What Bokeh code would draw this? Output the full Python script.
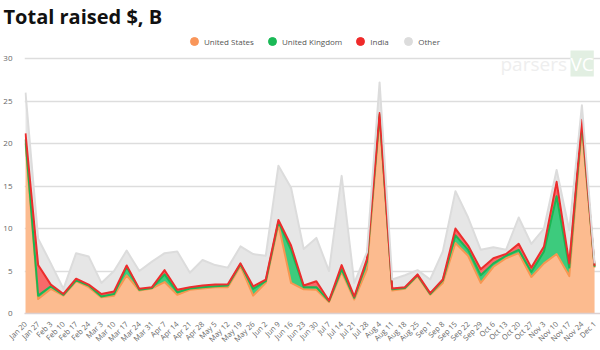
import math
from bokeh.plotting import figure
from bokeh.models import (ColumnDataSource, Range1d, FixedTicker, Legend, LegendItem, Label)
from bokeh.embed import file_html
from bokeh.resources import INLINE

dates = ["Jan 20","Jan 27","Feb 3","Feb 10","Feb 17","Feb 24","Mar 3","Mar 10","Mar 17","Mar 24","Mar 31",
         "Apr 7","Apr 14","Apr 21","Apr 28","May 5","May 12","May 19","May 26","Jun 2","Jun 9","Jun 16",
         "Jun 23","Jun 30","Jul 7","Jul 14","Jul 21","Jul 28","Aug 4","Aug 11","Aug 18","Aug 25","Sep 1",
         "Sep 8","Sep 15","Sep 22","Sep 29","Oct 6","Oct 13","Oct 20","Oct 27","Nov 3","Nov 10","Nov 17",
         "Nov 24","Dec 1"]

united_states = [20.0,1.7,2.9,2.1,3.8,3.1,1.9,2.1,4.5,2.7,2.95,3.7,2.2,2.8,2.95,3.1,3.1,5.6,2.1,3.6,
                 10.5,3.6,2.85,2.8,1.35,4.9,1.65,5.2,23.0,2.7,2.9,4.4,2.2,3.6,8.3,6.8,3.6,5.5,6.5,7.1,
                 4.3,5.9,7.0,4.4,21.8,5.4]
united_kingdom = [0.5,0.4,0.3,0.1,0.1,0.2,0.1,0.2,1.0,0.1,0.05,0.9,0.3,0.15,0.15,0.1,0.2,0.2,0.8,0.2,
                  0.3,3.9,0.25,0.3,0.1,0.3,0.2,0.9,0.4,0.15,0.1,0.1,0.1,0.3,0.9,0.7,0.9,0.4,0.3,0.4,
                  0.6,1.4,6.8,1.0,0.6,0.1]
india = [0.7,3.6,0.2,0.1,0.2,0.1,0.3,0.3,0.15,0.1,0.1,0.5,0.3,0.15,0.2,0.2,0.15,0.1,0.3,0.2,
         0.2,0.5,0.2,0.7,0.05,0.5,0.15,0.3,0.2,0.1,0.1,0.1,0.1,0.1,0.8,0.5,0.7,0.6,0.2,0.7,
         0.5,0.6,1.7,0.5,0.4,0.1]
other = [4.8,3.1,2.5,0.6,3.0,3.3,1.3,2.4,1.75,2.1,3.0,2.0,4.5,1.7,3.0,2.3,1.95,2.0,3.8,2.8,
         6.4,6.8,4.3,5.1,3.5,10.5,1.6,0.8,3.6,1.05,1.4,0.5,1.6,3.3,4.4,3.3,2.3,1.3,0.5,3.1,
         2.8,2.1,1.4,3.9,1.7,0.3]

y_ticks = [0, 5, 10, 15, 20, 25, 30]

series = ["us", "uk", "india", "other"]
names = ["United States", "United Kingdom", "India", "Other"]
fills = ["#fcbb8f", "#3dcb7d", "#f76a6a", "#e6e6e6"]
lines = ["#f79650", "#1bb653", "#ec2d2d", "#dcdcdc"]
dots = ["#f9965a", "#1ab956", "#ef2a2a", "#dcdcdc"]

x = list(range(len(dates)))
src = ColumnDataSource(dict(x=x, us=united_states, uk=united_kingdom, india=india, other=other))

p = figure(width=600, height=350, output_backend="svg", toolbar_location=None,
           min_border_left=22, min_border_right=0, min_border_top=0, min_border_bottom=29,
           x_range=Range1d(-0.08, 45.47), y_range=Range1d(0, 33.43))
p.outline_line_color = None
p.background_fill_color = "white"
p.border_fill_color = "white"

p.title.text = "Total raised $, B"
p.title.text_font = "Open Sans"
p.title.text_font_size = "20px"
p.title.text_font_style = "bold"
p.title.text_color = "#111111"
p.title.align = "left"
p.title.offset = -21
p.title.standoff = 0

p.varea_stack(stackers=series, x="x", color=fills, source=src)
p.vline_stack(stackers=series, x="x", color=lines, line_width=2, source=src, line_join="round")

# legend
items = []
for n, c in zip(names, dots):
    r = p.scatter(x=[-50], y=[-50], marker="circle", size=9, color=c)
    items.append(LegendItem(label=n, renderers=[r]))
leg = Legend(items=items, orientation="horizontal", location="top_center",
             label_text_font="Open Sans", label_text_font_size="8px", label_text_color="#555555",
             glyph_width=20, glyph_height=20, label_standoff=0, spacing=8,
             background_fill_alpha=0, border_line_color=None, margin=2, padding=0,
             label_height=10)
p.add_layout(leg)

p.xgrid.grid_line_color = None
p.ygrid.grid_line_color = "#dddddd"
p.ygrid.grid_line_width = 1.5
p.ygrid.ticker = FixedTicker(ticks=y_ticks)

p.yaxis.ticker = FixedTicker(ticks=y_ticks)
p.yaxis.axis_line_color = None
p.yaxis.major_tick_line_color = None
p.yaxis.minor_tick_line_color = None
p.yaxis.major_label_text_font = "Open Sans"
p.yaxis.major_label_text_font_size = "8px"
p.yaxis.major_label_text_color = "#666666"
p.yaxis.major_label_standoff = 6

p.xaxis.ticker = FixedTicker(ticks=x)
p.xaxis.major_label_overrides = {i: d for i, d in enumerate(dates)}
p.xaxis.major_label_orientation = math.pi / 4
p.xaxis.axis_line_color = "#dcd0d0"
p.xaxis.axis_line_width = 1.5
p.xaxis.major_tick_line_color = None
p.xaxis.minor_tick_line_color = None
p.xaxis.major_label_text_font = "Open Sans"
p.xaxis.major_label_text_font_size = "7.5px"
p.xaxis.major_label_text_color = "#666666"
p.xaxis.major_label_standoff = 3

wm1 = Label(x=476, y=237, x_units="screen", y_units="screen", text="parsers",
            text_font="Open Sans", text_font_size="19px", text_color="#eeeeee",
            text_baseline="bottom")
p.add_layout(wm1)
wm2 = Label(x=546, y=237, x_units="screen", y_units="screen", text="VC",
            text_font="Open Sans", text_font_size="19px", text_color="#ffffff",
            background_fill_color="#e2efe2", text_baseline="bottom")
p.add_layout(wm2)

open("out.html", "w").write(file_html(p, INLINE))
